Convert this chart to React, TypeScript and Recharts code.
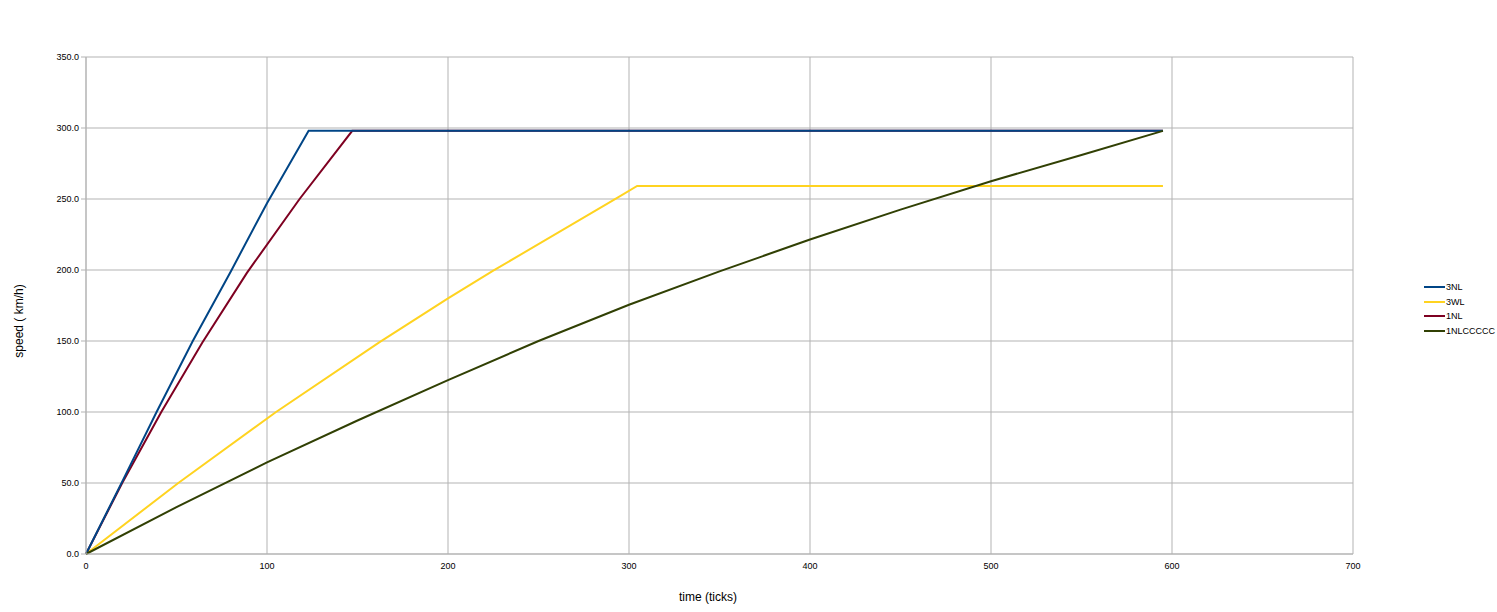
import React from 'react';
import { LineChart, Line, XAxis, YAxis, CartesianGrid, Label } from 'recharts';

// time (ticks) / speed (km/h)
const ticks3NL = [0, 20, 39, 59, 80, 100, 123, 595];
const speed3NL = [0, 51, 100, 150, 199, 247, 298, 298];

const ticks3WL = [0, 51, 105, 162, 200, 225, 293, 304.5, 595];
const speed3WL = [0, 50, 100, 149, 180, 199.5, 250.5, 259.2, 259.2];

const ticks1NL = [0, 20, 41.6, 64.3, 88.9, 118, 147.1, 595];
const speed1NL = [0, 50, 100, 149, 198, 250, 298, 298];

const ticks1NLC = [0, 50, 100, 150, 200, 250, 300, 350, 400, 450, 500, 550, 595];
const speed1NLC = [0, 33, 64.5, 94, 122.5, 150, 175.5, 199, 221.5, 242.5, 262.5, 281, 298];

const xTicks = [0, 100, 200, 300, 400, 500, 600, 700];
const yTicks = [0, 50, 100, 150, 200, 250, 300, 350];

const toPoints = (t: number[], v: number[]) => t.map((x, i) => ({ t: x, v: v[i] }));

const series = [
  { name: '3NL', color: '#004586', data: toPoints(ticks3NL, speed3NL) },
  { name: '3WL', color: '#ffd320', data: toPoints(ticks3WL, speed3WL) },
  { name: '1NL', color: '#7e0021', data: toPoints(ticks1NL, speed1NL) },
  { name: '1NLCCCCC', color: '#314004', data: toPoints(ticks1NLC, speed1NLC) },
];

// draw order differs from legend order so the blue sits on top
const drawOrder = ['3WL', '1NL', '3NL', '1NLCCCCC'];

const font = '"Liberation Sans", Arial, sans-serif';
const tickStyle = { fontFamily: font, fontSize: 9, fill: '#000' };

function ChartLegend() {
  return (
    <div style={{ position: 'absolute', left: 1424, top: 280, fontFamily: font, fontSize: 9, color: '#000' }}>
      {series.map((s) => (
        <div key={s.name} style={{ display: 'flex', alignItems: 'center', height: 14.5 }}>
          <div style={{ width: 21, height: 2, background: s.color }} />
          <span style={{ marginLeft: 1 }}>{s.name}</span>
        </div>
      ))}
    </div>
  );
}

export default function App() {
  return (
    <div style={{ position: 'absolute', left: 0, top: 0, width: 1497, height: 612, background: '#fff' }}>
      <LineChart width={1497} height={612} margin={{ top: 57, right: 144, bottom: 28, left: 0 }}>
        <CartesianGrid stroke="#b3b3b3" />
        <XAxis
          type="number"
          dataKey="t"
          domain={[0, 700]}
          ticks={xTicks}
          height={30}
          tickSize={0}
          tickMargin={9}
          tick={tickStyle}
          axisLine={{ stroke: '#b3b3b3' }}
        >
          <Label
            content={() => (
              <text x={708} y={601} textAnchor="middle" fontFamily={font} fontSize={12} fill="#000">
                time (ticks)
              </text>
            )}
          />
        </XAxis>
        <YAxis
          type="number"
          domain={[0, 350]}
          ticks={yTicks}
          width={86}
          tickSize={5}
          tickMargin={2}
          tick={tickStyle}
          tickFormatter={(v: number) => v.toFixed(1)}
          axisLine={{ stroke: '#b3b3b3' }}
          tickLine={{ stroke: '#b3b3b3' }}
        >
          <Label
            content={() => (
              <text x={23} y={321} textAnchor="middle" fontFamily={font} fontSize={12} fill="#000" transform="rotate(-90 23 321)">
                speed ( km/h)
              </text>
            )}
          />
        </YAxis>
        {drawOrder.map((n) => {
          const s = series.find((x) => x.name === n)!;
          return (
            <Line
              key={s.name}
              data={s.data}
              dataKey="v"
              name={s.name}
              type="linear"
              stroke={s.color}
              strokeWidth={2}
              dot={false}
              isAnimationActive={false}
            />
          );
        })}
      </LineChart>
      <ChartLegend />
    </div>
  );
}
